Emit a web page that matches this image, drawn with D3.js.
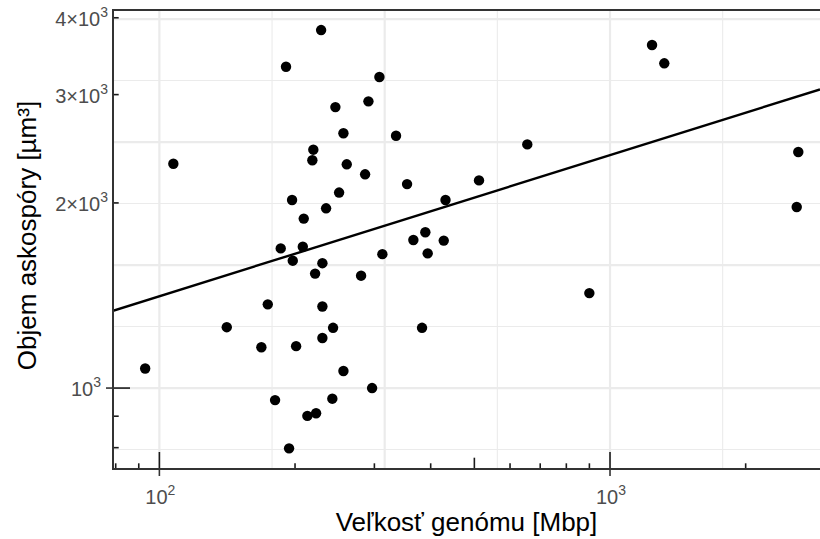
<!DOCTYPE html>
<html><head><meta charset="utf-8">
<script src="https://cdn.jsdelivr.net/npm/d3@7"></script>
<style>
body{margin:0;background:#fff;}
svg{display:block;font-family:"Liberation Sans",Arial,Helvetica,sans-serif;}
</style>
</head><body>
<svg id="chart" width="820" height="539"></svg>
<script>
// ---- data ----
const genomeSize = [93, 107.4, 141.1, 168.4, 174.0, 180.6, 185.9, 191.0, 194.0, 197.0,
  197.7, 201.1, 208.1, 209.1, 213.0, 219.6, 218.5, 221.6, 222.7, 228.5,
  230.0, 230.0, 230.0, 234.4, 242.0, 242.9, 245.8, 250.5, 256.1, 256.1,
  260.5, 280.3, 286.1, 291.0, 296.5, 307.8, 312.5, 335.1, 354.5, 366.1,
  382.7, 389.2, 393.9, 427.6, 431.5, 512.0, 655.3, 899.8, 1239.5, 1319.6,
  2596, 2617];
const sporeVolume = [1076, 2316, 1256, 1165, 1368, 956, 1687, 3330, 798, 2022,
  1611, 1170, 1697, 1886, 901, 2441, 2346, 1535, 910, 3820,
  1596, 1357, 1206, 1960, 961, 1253, 2863, 2079, 2596, 1066,
  2311, 1523, 2226, 2925, 1000, 3204, 1651, 2572, 2146, 1741,
  1253, 1792, 1656, 1737, 2022, 2176, 2490, 1427, 3612, 3373,
  1970, 2420];

// fitted line on log10 scales: log10(y) = intercept + slope * log10(x)
const trendIntercept = 2.6905;
const trendSlope = 0.2294;

const xDomain = [78.9, 2924];
const yDomain = [738.6, 4118];

const xTickValues = [100, 1000];
const xTickExponents = ["2", "3"];
const yTickValues = [1000, 2000, 3000, 4000];
const yTickMantissas = ["", "2", "3", "4"];
const yTickExponents = ["3", "3", "3", "3"];
const yAxisTickValues = [1000];

const xGridMajor = [100, 316.23, 1000];
const xGridMinor = [177.83, 562.34, 1778.3];
const yGridMajor = [1000, 1584.9, 2511.9, 3981.1];
const yGridMinor = [794.33, 1258.9, 1995.3, 3162.3];

const xLogTicks = [80, 90, 100, 200, 300, 400, 500, 600, 700, 800, 900, 1000, 2000];
const yLogTicks = [800, 900, 1000, 2000, 3000, 4000];

const xTitle = "Veľkosť genómu [Mbp]";
const yTitle = "Objem askospóry [µm³]";

// ---- layout ----
const W = 820, H = 539;
const P = {left: 113, right: 820, top: 10, bottom: 469};

const svg = d3.select("#chart");
const x = d3.scaleLog().domain(xDomain).range([P.left, P.right]);
const y = d3.scaleLog().domain(yDomain).range([P.bottom, P.top]);

svg.append("defs").append("clipPath").attr("id", "panel")
  .append("rect").attr("x", P.left).attr("y", P.top)
  .attr("width", P.right - P.left).attr("height", P.bottom - P.top);

const grid = svg.append("g").attr("clip-path", "url(#panel)");
const gridCol = "#EBEBEB";
grid.selectAll(".xmin").data(xGridMinor).join("line")
  .attr("x1", d => x(d)).attr("x2", d => x(d)).attr("y1", P.top).attr("y2", P.bottom)
  .attr("stroke", gridCol).attr("stroke-width", 1.1);
grid.selectAll(".ymin").data(yGridMinor).join("line")
  .attr("y1", d => y(d)).attr("y2", d => y(d)).attr("x1", P.left).attr("x2", P.right)
  .attr("stroke", gridCol).attr("stroke-width", 1.1);
grid.selectAll(".xmaj").data(xGridMajor).join("line")
  .attr("x1", d => x(d)).attr("x2", d => x(d)).attr("y1", P.top).attr("y2", P.bottom)
  .attr("stroke", gridCol).attr("stroke-width", 2.2);
grid.selectAll(".ymaj").data(yGridMajor).join("line")
  .attr("y1", d => y(d)).attr("y2", d => y(d)).attr("x1", P.left).attr("x2", P.right)
  .attr("stroke", gridCol).attr("stroke-width", 2.2);

// trend line across the panel
const trendX = xDomain;
const trendPts = trendX.map(v => [v, Math.pow(10, trendIntercept + trendSlope * Math.log10(v))]);
svg.append("g").attr("clip-path", "url(#panel)")
  .append("path")
  .attr("d", d3.line().x(d => x(d[0])).y(d => y(d[1]))(trendPts))
  .attr("fill", "none").attr("stroke", "#000").attr("stroke-width", 2.4);

// points
const pts = genomeSize.map((g, i) => ({g, v: sporeVolume[i]}));
svg.append("g").selectAll("circle").data(pts).join("circle")
  .attr("cx", d => x(d.g)).attr("cy", d => y(d.v)).attr("r", 5.2).attr("fill", "#000");

// log ticks (inside panel)
function tickLen(v) {
  const m = v / Math.pow(10, Math.floor(Math.log10(v) + 1e-9));
  if (Math.abs(m - 1) < 1e-6) return 17;
  if (Math.abs(m - 5) < 1e-6) return 11.3;
  return 5.7;
}
const lt = svg.append("g").attr("stroke", "#1a1a1a").attr("stroke-width", 1.6);
lt.selectAll(".xl").data(xLogTicks).join("line")
  .attr("x1", d => x(d)).attr("x2", d => x(d))
  .attr("y1", P.bottom).attr("y2", d => P.bottom - tickLen(d));
lt.selectAll(".yl").data(yLogTicks).join("line")
  .attr("y1", d => y(d)).attr("y2", d => y(d))
  .attr("x1", P.left).attr("x2", d => P.left + tickLen(d));

// axis ticks outside
const axT = svg.append("g").attr("stroke", "#333").attr("stroke-width", 1.6);
axT.selectAll(".xt").data(xTickValues).join("line")
  .attr("x1", d => x(d)).attr("x2", d => x(d)).attr("y1", P.bottom).attr("y2", P.bottom + 7);
axT.selectAll(".yt").data(yAxisTickValues).join("line")
  .attr("y1", d => y(d)).attr("y2", d => y(d)).attr("x1", P.left - 7).attr("x2", P.left);

// axis lines + top border
const ax = svg.append("g").attr("stroke", "#333").attr("stroke-width", 2).attr("fill", "none");
ax.append("line").attr("x1", P.left).attr("x2", P.left).attr("y1", P.top - 1).attr("y2", P.bottom + 1);
ax.append("line").attr("x1", P.left - 1).attr("x2", P.right).attr("y1", P.bottom).attr("y2", P.bottom);
ax.append("line").attr("x1", P.left - 1).attr("x2", P.right).attr("y1", P.top).attr("y2", P.top);

// tick labels
const labCol = "#4D4D4D";
const fs = 20, sup = 14;
xTickValues.forEach((v, i) => {
  const t = svg.append("text").attr("x", x(v) + 1).attr("y", 504)
    .attr("text-anchor", "middle").attr("fill", labCol).attr("font-size", fs);
  t.append("tspan").text("10");
  t.append("tspan").attr("dy", -9).attr("font-size", sup).text(xTickExponents[i]);
});
yTickValues.forEach((v, i) => {
  const isPlain = yTickMantissas[i] === "";
  const t = svg.append("text").attr("x", isPlain ? 101 : 108).attr("y", y(v) + 8)
    .attr("text-anchor", "end").attr("fill", labCol).attr("font-size", fs);
  if (!isPlain) t.append("tspan").text(yTickMantissas[i] + "×");
  t.append("tspan").text("10");
  t.append("tspan").attr("dy", -9).attr("font-size", sup).text(yTickExponents[i]);
});

// axis titles
svg.append("text").attr("x", (P.left + P.right) / 2).attr("y", 531)
  .attr("text-anchor", "middle").attr("font-size", 26).attr("fill", "#000").text(xTitle);
svg.append("text").attr("transform", `translate(36,${(P.top + P.bottom) / 2 - 4}) rotate(-90)`)
  .attr("text-anchor", "middle").attr("font-size", 26).attr("fill", "#000").text(yTitle);
</script>
</body></html>
